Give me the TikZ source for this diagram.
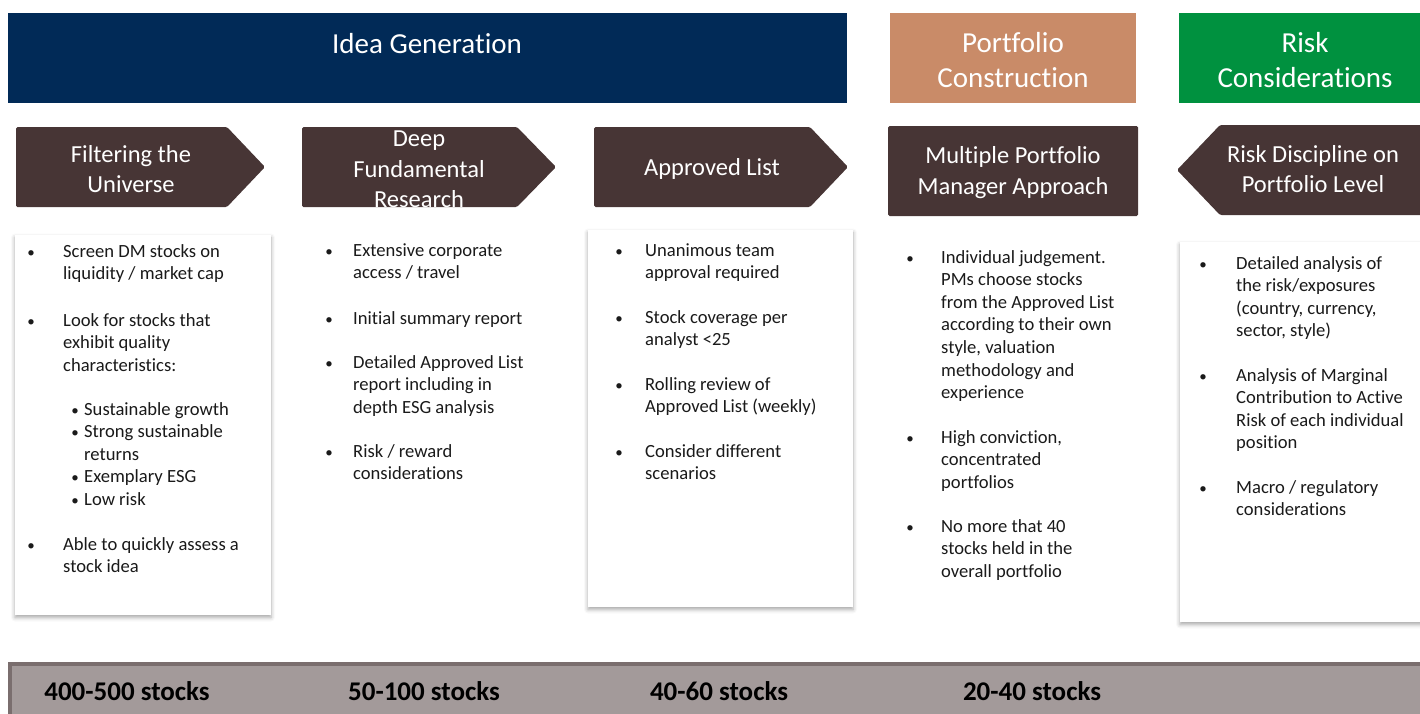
\documentclass[tikz,border=0pt]{standalone}
\usepackage{fontspec}
\setmainfont{Carlito}[Ligatures={NoCommon}]
\usetikzlibrary{shadows.blur}
\definecolor{navy}{HTML}{012A57}
\definecolor{tanc}{HTML}{C98B68}
\definecolor{riskgreen}{HTML}{00913F}
\definecolor{stagebrown}{HTML}{473535}
\definecolor{barfill}{HTML}{A39A9A}
\definecolor{barline}{HTML}{7A6E6E}
\definecolor{txt}{HTML}{1A1A1A}
\newcommand{\itemlines}[1]{\begin{tabular}[t]{@{}l@{}}#1\end{tabular}}
\begin{document}
\begin{tikzpicture}[x=1pt,y=-1pt,
  bannertext/.style={text=white, font=\fontsize{29}{35}\selectfont, align=center, inner sep=0pt},
  stagefill/.style={fill=stagebrown, rounded corners=1.5pt},
  stagetext/.style={text=white, font=\fontsize{24.5}{30.5}\selectfont, align=center, inner sep=0pt},
  card/.style={fill=white, blur shadow={shadow xshift=0pt, shadow yshift=-2.5pt, shadow blur radius=4pt, shadow opacity=35}},
  bul/.style={anchor=base, font=\fontsize{15}{22.6}\selectfont, text=txt, inner sep=0pt},
  itm/.style={anchor=base west, font=\fontsize{18.6}{22.6}\selectfont, text=txt, inner sep=0pt},
  countlabel/.style={font=\bfseries\fontsize{27}{30}\selectfont, text=black, anchor=base, inner sep=0pt}
]
\path[use as bounding box] (0,0) rectangle (1420,713);

% top banners
\fill[navy] (8,13) rectangle (847,103);
\node[bannertext] (ideagen) at (427,44) {Idea Generation};
\fill[tanc] (890,13) rectangle (1136,103);
\node[bannertext] (portcons) at (1013,60) {Portfolio\\Construction};
\fill[riskgreen] (1179,13) rectangle (1420,103);
\node[bannertext] (riskcons) at (1305,60) {Risk\\Considerations};

% stage shapes
\fill[stagefill] (16,127) -- (227,127) -- (265,167) -- (227,207) -- (16,207) -- cycle;
\node[stagetext] (s1) at (131,169) {Filtering the\\Universe};
\fill[stagefill] (302,127) -- (517,127) -- (556,167) -- (517,207) -- (302,207) -- cycle;
\node[stagetext] (s2) at (419,169.5) {Deep\\Fundamental\\Research};
\fill[stagefill] (594,127) -- (810,127) -- (848,167) -- (810,207) -- (594,207) -- cycle;
\node[stagetext] (s3) at (712,169) {Approved List};
\fill[stagefill] (888,126) rectangle (1138,216);
\node[stagetext] (s4) at (1013,172.5) {Multiple Portfolio\\Manager Approach};
\fill[stagefill] (1220,125) -- (1425,125) -- (1425,215) -- (1220,215) -- (1177,170) -- cycle;
\node[stagetext] (s5) at (1313,169) {Risk Discipline on\\Portfolio Level};

% cards
\path[card] (15,235) rectangle (271,615);
\path[card] (588,230) rectangle (853,607);
\path[card] (1180,242) rectangle (1430,622);

% card 1
\node[bul] (b11) at (31,257) {\textbullet};
\node[itm] (t11) at (63,257) {\itemlines{Screen DM stocks on\\liquidity / market cap}};
\node[bul] (b12) at (31,326) {\textbullet};
\node[itm] (t12) at (63,326) {\itemlines{Look for stocks that\\exhibit quality\\characteristics:}};
\node[bul] (b13) at (75,415) {\textbullet};
\node[itm] (t13) at (84,415) {\itemlines{Sustainable growth}};
\node[bul] (b14) at (75,437.5) {\textbullet};
\node[itm] (t14) at (84,437.5) {\itemlines{Strong sustainable\\returns}};
\node[bul] (b15) at (75,482.5) {\textbullet};
\node[itm] (t15) at (84,482.5) {\itemlines{Exemplary ESG}};
\node[bul] (b16) at (75,505) {\textbullet};
\node[itm] (t16) at (84,505) {\itemlines{Low risk}};
\node[bul] (b17) at (31,550) {\textbullet};
\node[itm] (t17) at (63,550) {\itemlines{Able to quickly assess a\\stock idea}};

% card 2
\node[bul] (b21) at (329,256) {\textbullet};
\node[itm] (t21) at (353,256) {\itemlines{Extensive corporate\\access / travel}};
\node[bul] (b22) at (329,324) {\textbullet};
\node[itm] (t22) at (353,324) {\itemlines{Initial summary report}};
\node[bul] (b23) at (329,368) {\textbullet};
\node[itm] (t23) at (353,368) {\itemlines{Detailed Approved List\\report including in\\depth ESG analysis}};
\node[bul] (b24) at (329,457) {\textbullet};
\node[itm] (t24) at (353,457) {\itemlines{Risk / reward\\considerations}};

% card 3
\node[bul] (b31) at (619,256) {\textbullet};
\node[itm] (t31) at (645,256) {\itemlines{Unanimous team\\approval required}};
\node[bul] (b32) at (619,323) {\textbullet};
\node[itm] (t32) at (645,323) {\itemlines{Stock coverage per\\analyst <25}};
\node[bul] (b33) at (619,390) {\textbullet};
\node[itm] (t33) at (645,390) {\itemlines{Rolling review of\\Approved List (weekly)}};
\node[bul] (b34) at (619,457) {\textbullet};
\node[itm] (t34) at (645,457) {\itemlines{Consider different\\scenarios}};

% card 4
\node[bul] (b41) at (910,263) {\textbullet};
\node[itm] (t41) at (941,263) {\itemlines{Individual judgement.\\PMs choose stocks\\from the Approved List\\according to their own\\style, valuation\\methodology and\\experience}};
\node[bul] (b42) at (910,443) {\textbullet};
\node[itm] (t42) at (941,443) {\itemlines{High conviction,\\concentrated\\portfolios}};
\node[bul] (b43) at (910,532) {\textbullet};
\node[itm] (t43) at (941,532) {\itemlines{No more that 40\\stocks held in the\\overall portfolio}};

% card 5
\node[bul] (b51) at (1203,269) {\textbullet};
\node[itm] (t51) at (1236,269) {\itemlines{Detailed analysis of\\the risk/exposures\\(country, currency,\\sector, style)}};
\node[bul] (b52) at (1203,381) {\textbullet};
\node[itm] (t52) at (1236,381) {\itemlines{Analysis of Marginal\\Contribution to Active\\Risk of each individual\\position}};
\node[bul] (b53) at (1203,493) {\textbullet};
\node[itm] (t53) at (1236,493) {\itemlines{Macro / regulatory\\considerations}};

% bottom bar
\filldraw[fill=barfill, draw=barline, line width=4pt] (10,664) rectangle (1430,720);
\node[countlabel] (c1) at (127,700) {400-500 stocks};
\node[countlabel] (c2) at (424,700) {50-100 stocks};
\node[countlabel] (c3) at (719,700) {40-60 stocks};
\node[countlabel] (c4) at (1032,700) {20-40 stocks};
\end{tikzpicture}
\end{document}
